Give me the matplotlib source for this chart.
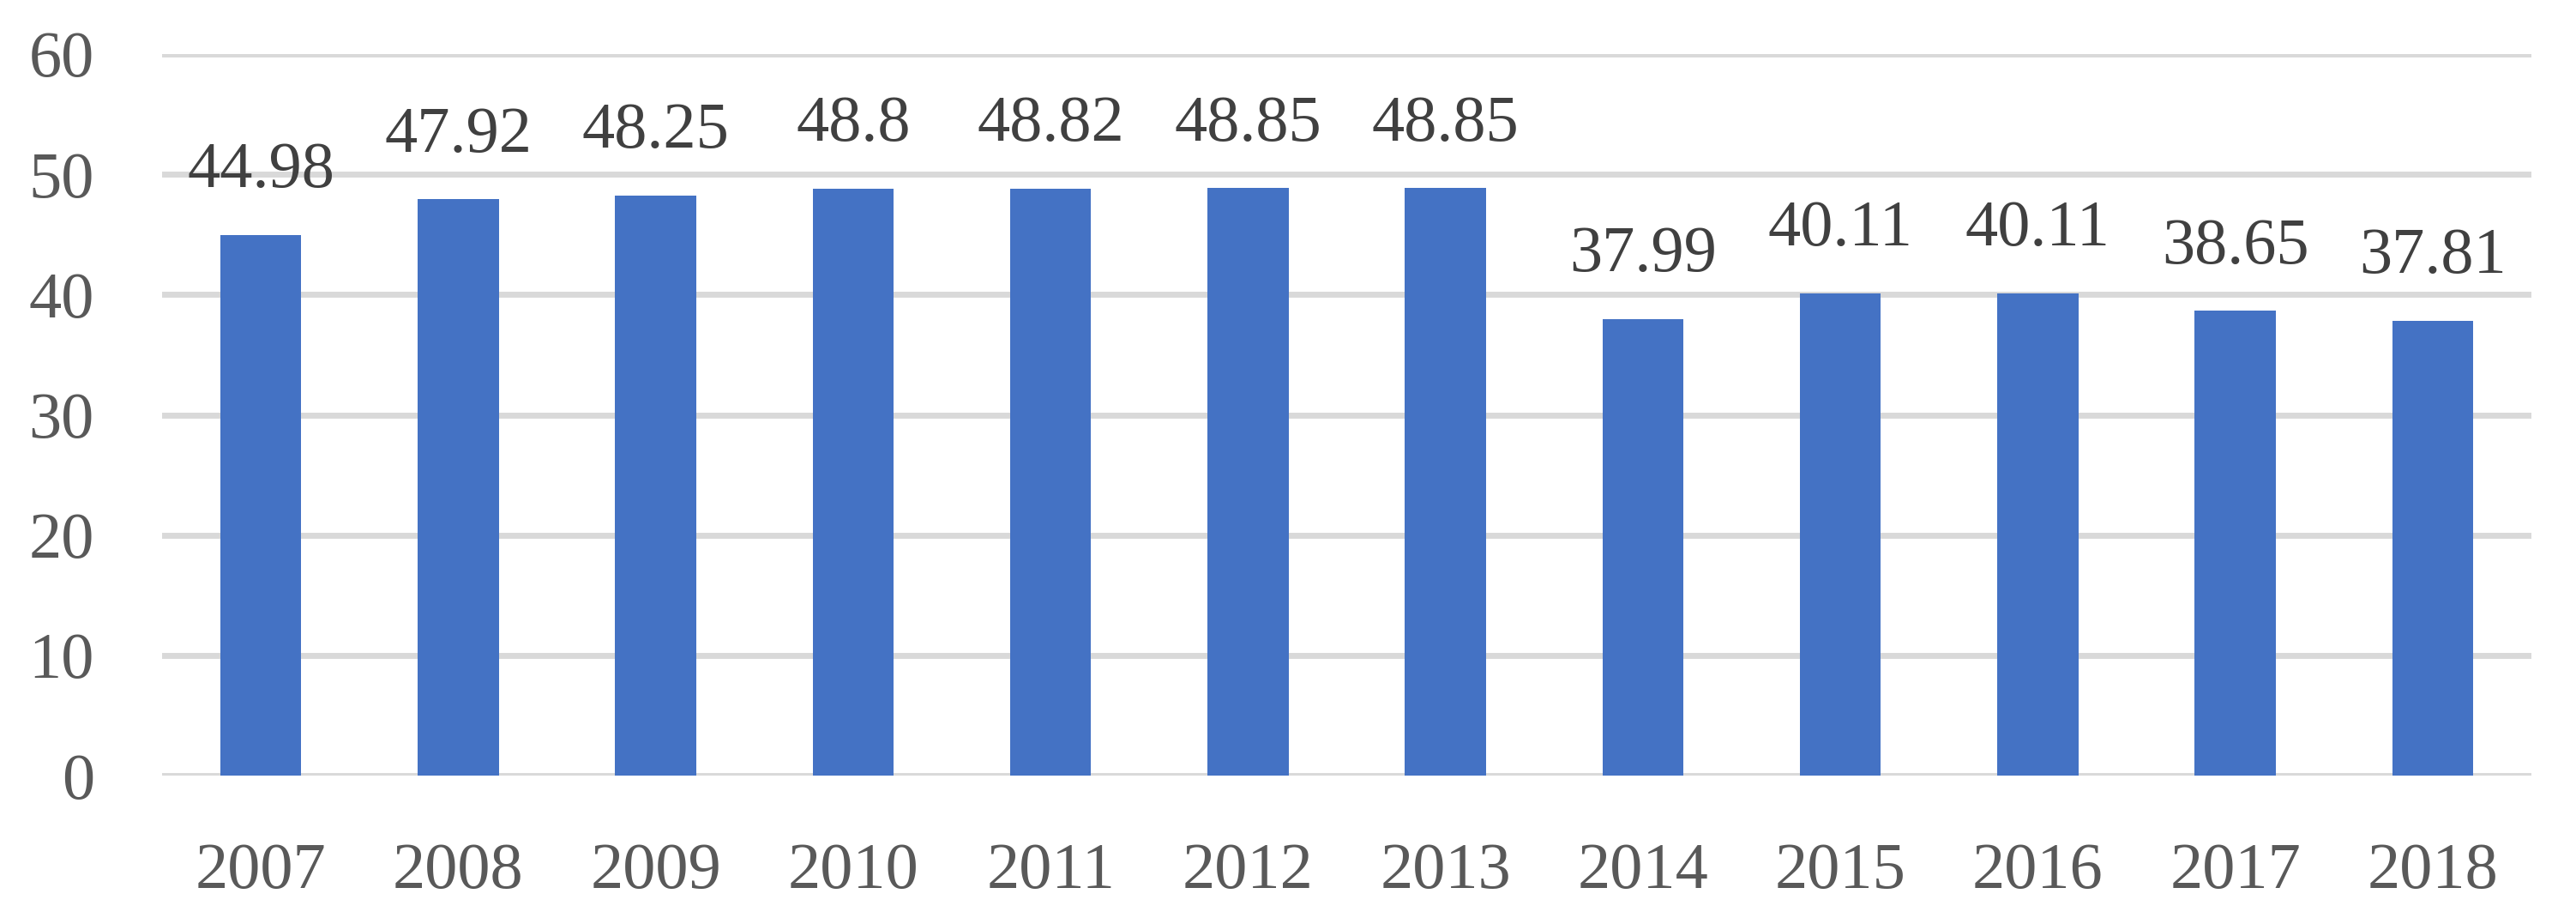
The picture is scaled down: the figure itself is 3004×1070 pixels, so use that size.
import matplotlib
matplotlib.use("Agg")
import matplotlib.pyplot as plt

years = ["2007", "2008", "2009", "2010", "2011", "2012", "2013", "2014", "2015", "2016", "2017", "2018"]
values = [44.98, 47.92, 48.25, 48.8, 48.82, 48.85, 48.85, 37.99, 40.11, 40.11, 38.65, 37.81]
labels = ["44.98", "47.92", "48.25", "48.8", "48.82", "48.85", "48.85", "37.99", "40.11", "40.11", "38.65", "37.81"]
yticks = [0, 10, 20, 30, 40, 50, 60]

plt.rcParams['font.family'] = ['Liberation Serif', 'DejaVu Serif']

W, H = 3004, 1070
fig = plt.figure(figsize=(W / 100, H / 100), dpi=100)
left, right = 189, 2952
top, bottom = 63, 904
ax = fig.add_axes([left / W, 1 - bottom / H, (right - left) / W, (bottom - top) / H])

x = list(range(len(years)))
ax.bar(x, values, width=0.41, color="#4472C4", zorder=3)
ax.set_xlim(-0.5, len(years) - 0.5)
ax.set_ylim(0, 60)
ax.set_yticks(yticks)
ax.set_yticklabels([str(t) for t in yticks])
ax.set_xticks(x)
ax.set_xticklabels(years)
ax.grid(axis="y", color="#D9D9D9", linewidth=5, zorder=0)
ax.set_axisbelow(True)
for s in ax.spines.values():
    s.set_visible(False)
ax.tick_params(axis="both", length=0, labelsize=55, colors="#595959")
ax.tick_params(axis="y", pad=57)
ax.tick_params(axis="x", pad=56)

for xi, v, lab in zip(x, values, labels):
    ax.annotate(lab, (xi, v), xytext=(0, 40), textcoords="offset points",
                ha="center", va="baseline", fontsize=55, color="#404040")

fig.savefig("out.png", dpi=100)
